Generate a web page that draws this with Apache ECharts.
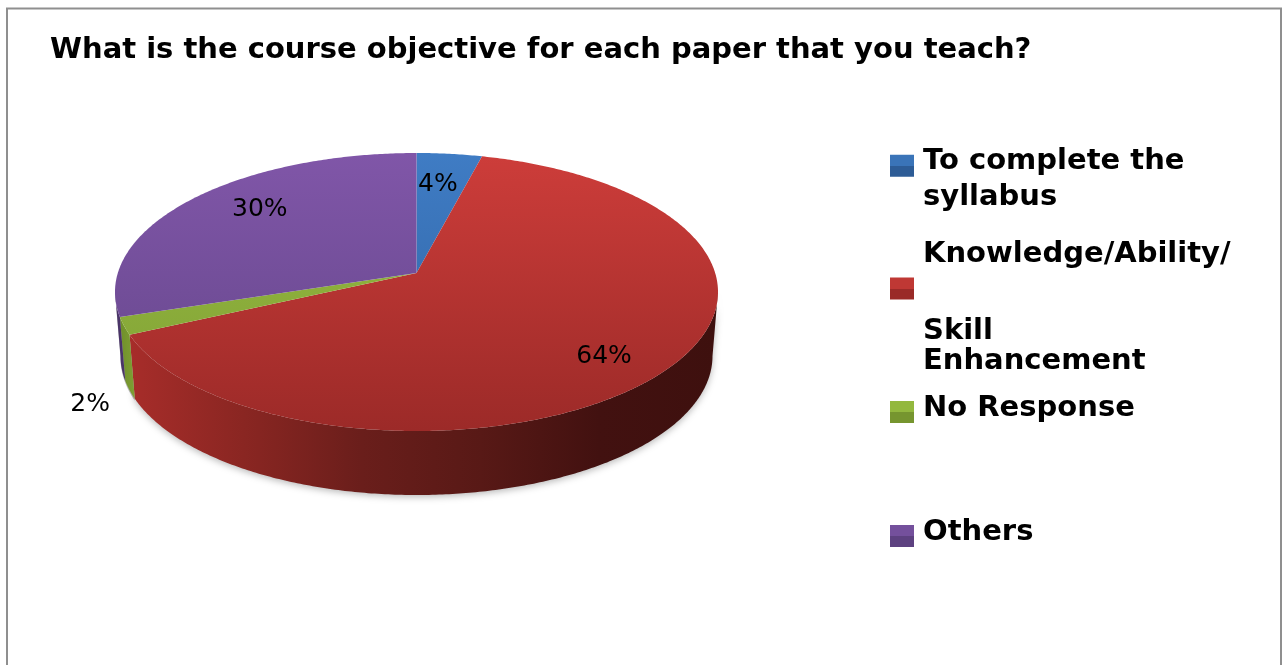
<!DOCTYPE html>
<html><head><meta charset="utf-8">
<style>html,body{margin:0;padding:0;background:#fff;overflow:hidden}#c{width:1285px;height:665px}</style>
<script src="https://cdn.jsdelivr.net/npm/echarts@6/dist/echarts.min.js"></script>
</head><body><div id="c"></div>
<script>
const chartTitle = 'What is the course objective for each paper that you teach?';
const categories = ['To complete the syllabus', 'Knowledge/Ability/ Skill Enhancement', 'No Response', 'Others'];
const values = [4, 64, 2, 30];
const valueLabels = ['4%', '64%', '2%', '30%'];

// Layout and styling
const FONT = '"DejaVu Sans", Verdana, sans-serif';
const pie = { cx: 416.5, cy: 292, rx: 301.5, ry: 139, k: 0.137, lowCy: 356, lowRx: 296, lowRy: 139 };
const labelFraction = [0.74, 0.74, 1, 0.75];
const labelNudge = [[-3, 0], [1, 13], [-34, 79], [11, -8]];
const topFaces = [['#3f7cc4', '#2f62a2'], ['#cd3d3a', '#9c2a28'], ['#98bc42', '#7f9f34'], ['#8056a8', '#64468a']];
const wallFaces = [
  ['#24497a', '#24497a'],
  ['#a82d2a', '#8a2622', '#6a1e1b', '#581916', '#421110', '#3e100e'],
  ['#6f8f2a', '#7f9f34'],
  ['#4a3468', '#4a3468']
];
const swatches = [['#3a74b8', '#2d5c96'], ['#bf3834', '#9a2a28'], ['#93b83e', '#76952f'], ['#74509c', '#5d4180']];
const legendTops = [108.25, 216, 354.5, 478.5];
// Each legend block is centred on its swatch: [text|null, line height]
const legendBlocks = [
  [[null, 70], ['To complete the', 36], ['syllabus', 36], [null, 42]],
  [[null, 40], ['Knowledge/Ability/', 36], [null, 44], ['Skill', 30], ['Enhancement', 30], [null, 4]],
  [[null, 70], ['No Response', 36], [null, 78]],
  [[null, 70], ['Others', 36], [null, 78]]
];

const total = values.reduce((a, b) => a + b, 0);
const starts = values.map((_, i) => values.slice(0, i).reduce((a, b) => a + b, 0) / total * Math.PI * 2);

function project(t) {
  const u = Math.sin(t), v = Math.cos(t), k = pie.k;
  const d = 1 + k * v;
  return { u: u * Math.sqrt(1 - k * k) / d, v: (v + k) / d };
}
const rimPt = t => { const p = project(t); return [pie.cx + pie.rx * p.u, pie.cy - pie.ry * p.v]; };
const lowPt = t => { const p = project(t); return [pie.cx + pie.lowRx * p.u, pie.lowCy - pie.lowRy * p.v]; };
const apex = [pie.cx, pie.cy - pie.ry * pie.k];

function sample(a, b, f) {
  const n = Math.max(2, Math.ceil((b - a) / 0.01));
  const out = [];
  for (let i = 0; i <= n; i++) out.push(f(a + (b - a) * i / n));
  return out;
}
function grad(x, y, x2, y2, cols) {
  return new echarts.graphic.LinearGradient(x, y, x2, y2,
    cols.map((c, i) => ({ offset: i / (cols.length - 1), color: c })), true);
}
function renderSlice(i) {
  return function (params, api) {
    const val = api.value(0);
    const a = starts[i], b = a + val / total * Math.PI * 2;
    const children = [];
    const t0 = Math.acos(-pie.k), wa = Math.max(a, t0), wb = Math.min(b, Math.PI * 2 - t0);
    if (wb > wa) {
      const top = sample(wa, wb, rimPt), low = sample(wa, wb, lowPt).reverse();
      const xs = top.concat(low).map(p => p[0]);
      const wallFill = i === 1
        ? grad(125, 0, 718, 0, wallFaces[i])
        : grad(Math.min(...xs), 0, Math.max(...xs), 0, wallFaces[i]);
      children.push({ type: 'polygon', shape: { points: top.concat(low) },
        style: { fill: wallFill, shadowBlur: i === 1 ? 7 : 0, shadowColor: 'rgba(0,0,0,0.28)', shadowOffsetY: 2 } });
    }
    children.push({ type: 'polygon', shape: { points: [apex].concat(sample(a, b, rimPt)) },
      style: { fill: grad(0, 153, 0, 431, topFaces[i]) } });
    const m = rimPt((a + b) / 2), f = labelFraction[i];
    children.push({ type: 'text', z2: 10, style: {
      x: apex[0] + (m[0] - apex[0]) * f + labelNudge[i][0],
      y: apex[1] + (m[1] - apex[1]) * f + labelNudge[i][1],
      text: valueLabels[i], fill: '#000', font: '25px ' + FONT, align: 'center', verticalAlign: 'middle' } });
    return { type: 'group', children };
  };
}
const rich = {};
legendBlocks.forEach(b => b.forEach(l => {
  rich[(l[0] === null ? 's' : 't') + l[1]] = l[0] === null
    ? { fontSize: 1, lineHeight: l[1] }
    : { fontFamily: FONT, fontWeight: 'bold', fontSize: 29, color: '#000', padding: [0, 0, 0, 4], lineHeight: l[1] };
}));
function legendText(name) {
  return legendBlocks[categories.indexOf(name)].map(l =>
    l[0] === null ? '{s' + l[1] + '| }' : '{t' + l[1] + '|' + l[0] + '}').join('\n');
}

const chart = echarts.init(document.getElementById('c'), null, { renderer: 'canvas' });
chart.setOption({
  animation: false,
  backgroundColor: '#fff',
  title: { text: chartTitle, left: 45, top: 31,
    textStyle: { fontFamily: FONT, fontWeight: 'bold', fontSize: 29, color: '#000' } },
  legend: categories.map((name, i) => ({
    orient: 'vertical', left: 890, top: legendTops[i], padding: 0, itemWidth: 24, itemHeight: 22,
    selectedMode: false, icon: 'rect', formatter: legendText,
    textStyle: { rich },
    data: [{ name, icon: 'rect', itemStyle: {
      color: new echarts.graphic.LinearGradient(0, 0, 0, 1, [
        { offset: 0, color: swatches[i][0] }, { offset: 0.5, color: swatches[i][0] },
        { offset: 0.5, color: swatches[i][1] }, { offset: 1, color: swatches[i][1] }]) } }]
  })),
  graphic: [{ type: 'rect', silent: true, z: -1, shape: { x: 7, y: 8.5, width: 1274, height: 700 },
    style: { fill: '#fff', stroke: '#8f8f8f', lineWidth: 2 } }],
  series: categories.map((name, i) => ({
    type: 'custom', name, coordinateSystem: 'none', silent: true,
    itemStyle: { color: swatches[i][0] },
    renderItem: renderSlice(i), data: [[values[i]]]
  }))
});
</script></body></html>
